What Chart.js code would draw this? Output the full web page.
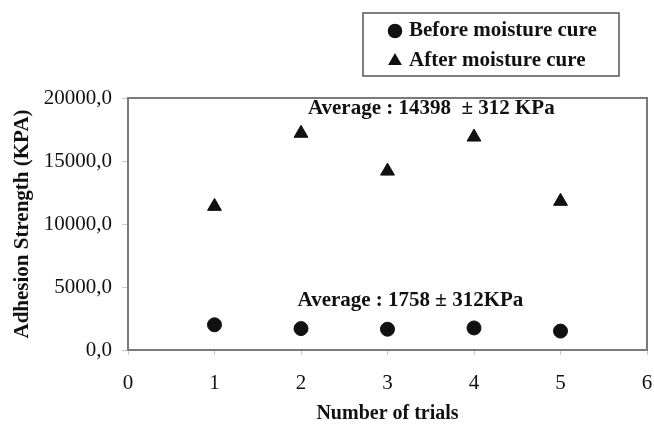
<!DOCTYPE html>
<html>
<head>
<meta charset="utf-8">
<script src="https://cdn.jsdelivr.net/npm/chart.js@4"></script>
<style>
  html, body { margin: 0; padding: 0; background: #fff; }
  #wrap { width: 654px; height: 424px; }
</style>
</head>
<body>
<div id="wrap"><canvas id="adhesionChart"></canvas></div>
<script>
// adhesion strength per trial
const trials = [1, 2, 3, 4, 5];
const beforeCure = [2000, 1700, 1650, 1750, 1500];
const afterCure = [11400, 17200, 14200, 16900, 11800];
const seriesLabels = ['Before moisture cure', 'After moisture cure'];
const yTicks = [0, 5000, 10000, 15000, 20000];
const xTicks = [0, 1, 2, 3, 4, 5, 6];
const noteTexts = ['Average : 14398  \u00b1 312 KPa', 'Average : 1758 \u00b1 312KPa'];

const SERIF = "'Liberation Serif', 'DejaVu Serif', serif";
const INK = '#111';

// where the two notes sit, in data units (left edge, vertical middle)
const notePlaces = [{ x: 2.08, y: 19200 }, { x: 1.96, y: 3900 }];

const pointsOf = (xs, ys) => xs.map((x, i) => ({ x: x, y: ys[i] }));

// box around the plot area
const frame = {
    id: 'frame',
    afterDraw(chart) {
        const { ctx, chartArea: a } = chart;
        ctx.save();
        ctx.strokeStyle = '#7a7a7a';
        ctx.lineWidth = 2;
        ctx.strokeRect(a.left, a.top, a.right - a.left, a.bottom - a.top);
        ctx.restore();
    }
};

// the two "Average" captions
const notes = {
    id: 'notes',
    afterDatasetsDraw(chart) {
        const { ctx, scales } = chart;
        ctx.save();
        ctx.fillStyle = INK;
        ctx.font = 'bold 21px ' + SERIF;
        ctx.textAlign = 'left';
        ctx.textBaseline = 'middle';
        noteTexts.forEach((t, i) => {
            const p = notePlaces[i];
            ctx.fillText(t, scales.x.getPixelForValue(p.x), scales.y.getPixelForValue(p.y));
        });
        ctx.restore();
    }
};

// boxed legend, top right, one entry per line
const boxLegend = {
    id: 'boxLegend',
    afterDraw(chart) {
        const ctx = chart.ctx;
        const box = { left: 363, top: 13, width: 256, height: 63 };
        ctx.save();
        ctx.strokeStyle = '#555';
        ctx.lineWidth = 1.5;
        ctx.strokeRect(box.left, box.top, box.width, box.height);
        ctx.font = 'bold 21px ' + SERIF;
        ctx.textBaseline = 'middle';
        chart.data.datasets.forEach((ds, i) => {
            const cy = box.top + 18 + i * 30;
            ctx.fillStyle = INK;
            ctx.strokeStyle = INK;
            Chart.helpers.drawPoint(ctx, { pointStyle: ds.pointStyle, radius: 6.5, borderWidth: 1, rotation: 0 }, box.left + 32, cy);
            ctx.fillStyle = INK;
            ctx.fillText(ds.label, box.left + 46, cy);
        });
        ctx.restore();
    }
};

new Chart(document.getElementById('adhesionChart'), {
    type: 'scatter',
    data: {
        datasets: [{
            label: seriesLabels[0],
            data: pointsOf(trials, beforeCure),
            pointStyle: 'circle',
            pointRadius: 7,
            backgroundColor: INK,
            borderColor: INK,
            borderWidth: 1
        }, {
            label: seriesLabels[1],
            data: pointsOf(trials, afterCure),
            pointStyle: 'triangle',
            pointRadius: 8,
            backgroundColor: INK,
            borderColor: INK,
            borderWidth: 1
        }]
    },
    options: {
        responsive: true,
        maintainAspectRatio: false,
        animation: false,
        layout: { autoPadding: false, padding: { top: 98, right: 7, left: 0, bottom: 0 } },
        scales: {
            x: {
                type: 'linear',
                min: 0,
                max: 6,
                afterBuildTicks: s => { s.ticks = xTicks.map(v => ({ value: v })); },
                afterFit: s => { s.height = 74; s.paddingLeft = 0; s.paddingRight = 0; },
                border: { display: false },
                grid: { drawOnChartArea: false, drawTicks: true, tickLength: 5, color: '#c8c8c8' },
                ticks: { color: INK, padding: 16, font: { family: SERIF, size: 21 } },
                title: {
                    display: true,
                    text: 'Number of trials',
                    color: INK,
                    padding: { top: 0, bottom: -2 },
                    font: { family: SERIF, size: 20, weight: 'bold' }
                }
            },
            y: {
                type: 'linear',
                min: 0,
                max: 20000,
                afterBuildTicks: s => { s.ticks = yTicks.map(v => ({ value: v })); },
                afterFit: s => { s.width = 128; s.paddingTop = 0; s.paddingBottom = 0; },
                border: { display: false },
                grid: { drawOnChartArea: false, drawTicks: true, tickLength: 6, color: '#c8c8c8' },
                ticks: {
                    color: INK,
                    padding: 10,
                    font: { family: SERIF, size: 21 },
                    callback: v => v.toFixed(1).replace('.', ',')
                },
                title: {
                    display: true,
                    text: 'Adhesion Strength (KPA)',
                    color: INK,
                    padding: { top: 10, bottom: 0 },
                    font: { family: SERIF, size: 21, weight: 'bold' }
                }
            }
        },
        plugins: {
            legend: { display: false },
            tooltip: { enabled: false }
        }
    },
    plugins: [frame, notes, boxLegend]
});
</script>
</body>
</html>
